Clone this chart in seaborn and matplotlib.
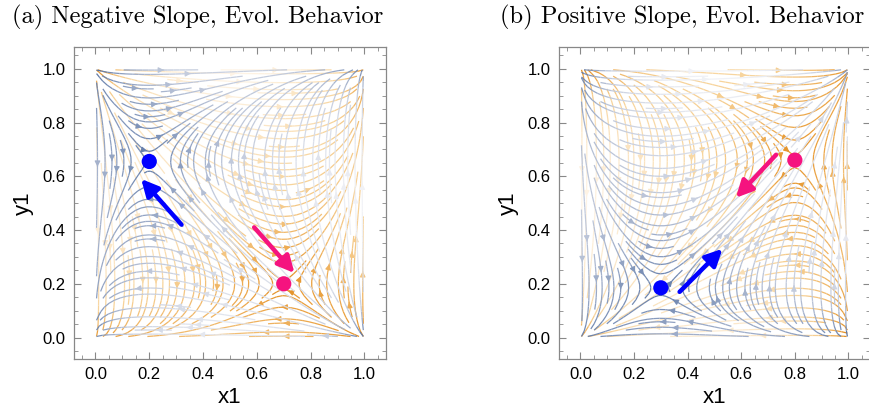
import numpy as np
import matplotlib
matplotlib.use("Agg")
import matplotlib.pyplot as plt
from matplotlib.colors import LinearSegmentedColormap
import seaborn as sns
import pandas as pd

sns.set_style("white")
plt.rcParams["text.color"] = "black"
plt.rcParams["axes.labelcolor"] = "black"
plt.rcParams["xtick.labelcolor"] = "black"
plt.rcParams["ytick.labelcolor"] = "black"

# ---- data ----
titles = ["(a) Negative Slope, Evol. Behavior", "(b) Positive Slope, Evol. Behavior"]
# interior equilibria of the two replicator fields in each panel (x*, y*)
blue_eq = [(0.20, 0.655), (0.30, 0.185)]
orange_eq = [(0.70, 0.20), (0.80, 0.66)]
# marker points
dot_blue = [(0.20, 0.655), (0.30, 0.185)]
dot_pink = [(0.70, 0.20), (0.80, 0.66)]
# big arrows (start -> end)
arrow_blue = [((0.32, 0.42), (0.17, 0.59)), ((0.37, 0.17), (0.53, 0.33))]
arrow_pink = [((0.59, 0.41), (0.74, 0.24)), ((0.73, 0.68), (0.58, 0.52))]
ticks = [0.0, 0.2, 0.4, 0.6, 0.8, 1.0]
tick_labels = ["0.0", "0.2", "0.4", "0.6", "0.8", "1.0"]

cmap_blue = LinearSegmentedColormap.from_list(
    "b", [(0, "#4a6798"), (0.3, "#7d92b8"), (0.6, "#c3cbdc"), (1, "#f2f3f7")])
cmap_orange = LinearSegmentedColormap.from_list(
    "o", [(0, "#dc8210"), (0.3, "#eaa03e"), (0.6, "#f7d39a"), (1, "#fef4e6")])

fig = plt.figure(figsize=(8.7, 4.18), dpi=100)
axes_pos = [[0.085, 0.141, 0.3586, 0.746], [0.6425, 0.141, 0.3574, 0.746]]

g = np.linspace(0.004, 0.996, 121)
X, Y = np.meshgrid(g, g)


def stream(ax, eq, cmap):
    xs, ys = eq
    U = X * (1 - X) * (Y - ys)
    V = Y * (1 - Y) * (X - xs)
    S = np.sqrt(U ** 2 + V ** 2)
    C = np.sqrt(S / S.max())
    kw = dict(color=C, cmap=cmap, linewidth=0.9, arrowsize=0.8, density=1.45,
              broken_streamlines=True, norm=plt.Normalize(0, 1))
    try:
        ax.streamplot(X, Y, U, V, num_arrows=5, **kw)
    except TypeError:
        ax.streamplot(X, Y, U, V, **kw)


for i in range(2):
    ax = fig.add_axes(axes_pos[i])
    stream(ax, orange_eq[i], cmap_orange)
    stream(ax, blue_eq[i], cmap_blue)

    df = pd.DataFrame({"x": [dot_blue[i][0], dot_pink[i][0]],
                       "y": [dot_blue[i][1], dot_pink[i][1]],
                       "k": ["blue", "pink"]})
    sns.scatterplot(data=df, x="x", y="y", hue="k",
                    palette={"blue": "#0000ff", "pink": "#f5137f"},
                    s=120, edgecolor="none", legend=False, ax=ax, zorder=5)
    for (s, e), col in [(arrow_blue[i], "#0000ff"), (arrow_pink[i], "#f5137f")]:
        ax.annotate("", xy=e, xytext=s,
                    arrowprops=dict(arrowstyle="-|>,head_length=1.0,head_width=0.5",
                                    color=col, lw=3.2, shrinkA=0, shrinkB=0),
                    zorder=6)

    ax.set_xlim(-0.08, 1.08)
    ax.set_ylim(-0.08, 1.08)
    ax.set_xticks(ticks)
    ax.set_yticks(ticks)
    ax.set_xticklabels(tick_labels, family="Liberation Sans", fontsize=12)
    ax.set_yticklabels(tick_labels, family="Liberation Sans", fontsize=12)
    ax.set_xticks(np.arange(-0.05, 1.06, 0.05), minor=True)
    ax.set_yticks(np.arange(-0.05, 1.06, 0.05), minor=True)
    ax.tick_params(which="both", direction="in", top=True, right=True,
                   bottom=True, left=True, color="#888888", labelcolor="black")
    ax.tick_params(which="major", length=5, width=0.8, pad=6)
    ax.tick_params(which="minor", length=3, width=0.6)
    for sp in ax.spines.values():
        sp.set_color("#888888")
        sp.set_linewidth(0.9)
    ax.set_xlabel("x1", family="Liberation Sans", fontsize=16, labelpad=3, color="black")
    ax.set_ylabel("y1", family="Liberation Sans", fontsize=16, labelpad=6, color="black")

fig.text(12 / 870, 1 - 17 / 418, titles[0], family="cmr10", fontsize=17.6, va="center", ha="left", color="black")
fig.text(500 / 870, 1 - 17 / 418, titles[1], family="cmr10", fontsize=17.6, va="center", ha="left", color="black")

fig.savefig("out.png", dpi=100, facecolor="white")
